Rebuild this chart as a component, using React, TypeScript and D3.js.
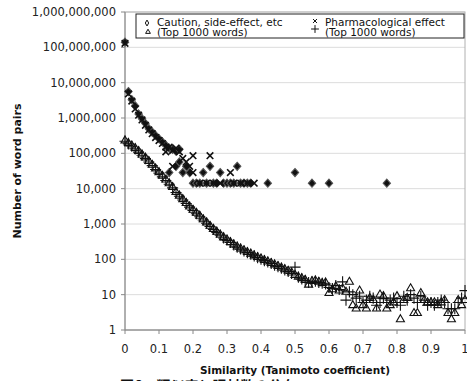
import React from "react";
import * as d3 from "d3";

// similarity grid for the two "Top 1000 words" series (step 0.01)
const simGrid = d3.range(101).map((i) => i / 100);

const top1000Triangle = [
  230000, 195000, 165000, 140000, 115000, 92000, 75000, 60000, 47000, 37000,
  29000, 23000, 18000, 14000, 11000, 8000, 6300, 5000, 3900, 3100,
  2500, 2050, 1700, 1350, 1100, 880, 720, 600, 500, 420,
  360, 305, 262, 228, 200, 178, 160, 143, 128, 115,
  104, 95, 86, 78, 71, 64, 58, 52, 47, 42,
  36, 32, 29, 26, 19, 24, 25, 23, 21, 22,
  11, 14, 17, 13, 15, 12, 23, 5, 4, 13,
  5, 4, 8, 7, 4, 10, 9, 4, 5, 6,
  9, 2, 7, 8, 15, 3, 3, 11, 7, 6,
  6, 6, 5, 6, 7, 3, 2, 3, 7, 5,
  7,
];

const top1000Plus = [
  220000, 185000, 158000, 132000, 108000, 88000, 71000, 57000, 45000, 35000,
  27500, 21500, 17000, 13300, 10500, 7800, 6100, 4800, 3800, 3000,
  2400, 1950, 1600, 1300, 1050, 850, 700, 580, 480, 400,
  345, 300, 255, 220, 195, 172, 155, 140, 125, 112,
  100, 92, 84, 76, 68, 62, 56, 50, 45, 40,
  60, 31, 28, 25, 22, 23, 24, 22, 21, 20,
  16, 15, 18, 14, 23, 7, 12, 10, 8, 9,
  6, 7, 9, 8, 5, 6, 8, 6, 7, 8,
  6, 5, 9, 7, 10, 8, 6, 9, 7, 5,
  6, 5, 6, 7, 6, 4, 4, 4, 6, 8,
  13,
];

// "Caution, side-effect, etc" pairs (sparse)
const cautionSim = [
  0, 0.01, 0.02, 0.03, 0.04, 0.05, 0.06, 0.07, 0.08, 0.09, 0.1, 0.11, 0.12, 0.13, 0.14, 0.15, 0.16,
  0.13, 0.15, 0.16, 0.17, 0.18, 0.19,
  0.2, 0.21, 0.22, 0.23, 0.24, 0.25, 0.26, 0.27, 0.28, 0.29, 0.3, 0.31, 0.32, 0.33, 0.34, 0.35, 0.36, 0.37,
  0.42, 0.5, 0.55, 0.6, 0.77,
];
const cautionPairs = [
  140000000, 5600000, 3300000, 2200000, 1300000, 950000, 700000, 500000, 400000, 320000, 260000, 210000, 170000, 140000, 130000, 115000, 130000,
  28600, 42900, 57200, 28600, 42900, 28600,
  14300, 14300, 14300, 28600, 14300, 42900, 14300, 14300, 28600, 14300, 14300, 14300, 14300, 42900, 14300, 14300, 14300, 14300,
  14300, 28600, 14300, 14300, 14300,
];

// "Pharmacological effect" pairs (sparse)
const pharmaSim = [
  0, 0.01, 0.02, 0.03, 0.04, 0.05, 0.06, 0.07, 0.08, 0.09, 0.1, 0.11, 0.12, 0.13, 0.14, 0.15, 0.16,
  0.12, 0.14, 0.17, 0.18, 0.19,
  0.2, 0.2, 0.22, 0.24, 0.25, 0.26, 0.28, 0.31, 0.32, 0.34, 0.36, 0.38,
];
const pharmaPairs = [
  130000000, 4800000, 3000000, 1800000, 1200000, 880000, 620000, 460000, 360000, 280000, 230000, 190000, 150000, 150000, 120000, 140000, 110000,
  110000, 42900, 71500, 57200, 42900,
  85800, 28600, 14300, 14300, 85800, 14300, 14300, 28600, 14300, 14300, 14300, 14300,
];

const yTicks = [1, 10, 100, 1000, 10000, 100000, 1000000, 10000000, 100000000, 1000000000];
const xTicks = [0, 0.1, 0.2, 0.3, 0.4, 0.5, 0.6, 0.7, 0.8, 0.9, 1];

const W = 467;
const H = 381;
const left = 125;
const right = 465;
const top = 12;
const bottom = 330;
const FONT = "DejaVu Sans, Verdana, sans-serif";

const x = d3.scaleLinear().domain([0, 1]).range([left, right]);
const y = d3.scaleLog().domain([1, 1e9]).range([bottom, top]);

const diamond = d3.symbol(d3.symbolDiamond, 30)()!;
const cross = d3.symbol(d3.symbolX, 30)()!;
const tri = d3.symbol(d3.symbolTriangle, 28)()!;
const plus = d3.symbol(d3.symbolPlus, 42)()!;

const fmt = d3.format(",");

function Markers({ xs, ys, path, fill, sw, stroke = "#111", scale = "" }: { xs: number[]; ys: number[]; path: string; fill: string; sw: number; stroke?: string; scale?: string }) {
  return (
    <g>
      {ys.map((v, i) => (
        <path
          key={i}
          d={path}
          transform={`translate(${x(xs[i])},${y(v)}) ${scale}`}
          fill={fill}
          stroke={stroke}
          strokeWidth={sw}
        />
      ))}
    </g>
  );
}

export default function App() {
  return (
    <svg width={W} height={H} style={{ position: "absolute", left: 0, top: 0, background: "#fff" }} fontFamily={FONT}>
      {/* gridlines */}
      {yTicks.map((t) => (
        <line key={t} x1={left} x2={right} y1={y(t)} y2={y(t)} stroke="#dcdcdc" strokeWidth={1} />
      ))}
      <rect x={left} y={top} width={right - left} height={bottom - top} fill="none" stroke="#b0b0b0" strokeWidth={1} />
      <line x1={left} x2={left} y1={top} y2={bottom} stroke="#888" />
      <line x1={left} x2={right} y1={bottom} y2={bottom} stroke="#888" />

      {/* y axis */}
      {yTicks.map((t) => (
        <g key={t}>
          <line x1={left - 4} x2={left} y1={y(t)} y2={y(t)} stroke="#888" />
          <text x={116} y={y(t) + 4} textAnchor="end" fontSize={11.5} fill="#222">
            {fmt(t)}
          </text>
        </g>
      ))}
      {/* x axis */}
      {xTicks.map((t) => (
        <g key={t}>
          <line x1={x(t)} x2={x(t)} y1={bottom} y2={bottom + 4} stroke="#888" />
          <text x={x(t)} y={353} textAnchor="middle" fontSize={11.5} fill="#222">
            {t}
          </text>
        </g>
      ))}

      <text x={(left + right) / 2} y={374} textAnchor="middle" fontSize={10.5} fontWeight="bold" fill="#111">
        Similarity (Tanimoto coefficient)
      </text>
      <text
        transform={`translate(21,${(top + bottom) / 2}) rotate(-90)`}
        textAnchor="middle"
        fontSize={11}
        fontWeight="bold"
        fill="#111"
      >
        Number of word pairs
      </text>

      {/* series */}
      <Markers xs={simGrid} ys={top1000Triangle} path={tri} fill="none" sw={1.1} />
      <Markers xs={simGrid} ys={top1000Plus} path={plus} fill="none" sw={1.1} />
      <Markers xs={cautionSim} ys={cautionPairs} path={diamond} fill="#111" stroke="#555" sw={1} scale="scale(1.25,0.8)" />
      <Markers xs={pharmaSim} ys={pharmaPairs} path={cross} fill="none" sw={1.6} />

      {/* legend */}
      <rect x={136} y={14} width={328} height={24} fill="#fff" stroke="#222" strokeWidth={1} />
      <path d={d3.symbol(d3.symbolDiamond, 10)()!} transform="translate(147,23)" fill="#fff" stroke="#111" strokeWidth={1} />
      <path d={d3.symbol(d3.symbolTriangle, 10)()!} transform="translate(148,32)" fill="#fff" stroke="#111" strokeWidth={1} />
      <path d={d3.symbol(d3.symbolX, 12)()!} transform="translate(315,21)" fill="none" stroke="#111" strokeWidth={1} />
      <path d={d3.symbol(d3.symbolPlus, 22)()!} transform="translate(315,29)" fill="none" stroke="#111" strokeWidth={1} />
      <text fontSize={10.5} fill="#111">
        <tspan x={157} y={26}>Caution, side-effect, etc</tspan>
        <tspan x={157} y={35.5}>(Top 1000 words)</tspan>
        <tspan x={325} y={26}>Pharmacological effect</tspan>
        <tspan x={325} y={35.5}>(Top 1000 words)</tspan>
      </text>

      {/* clipped caption below the chart */}
      <text x={120} y={391} fontSize={14} fontWeight="bold" fill="#111" fontFamily="Noto Sans CJK JP, sans-serif">
        図6　類似度と語対数の分布
      </text>
    </svg>
  );
}
